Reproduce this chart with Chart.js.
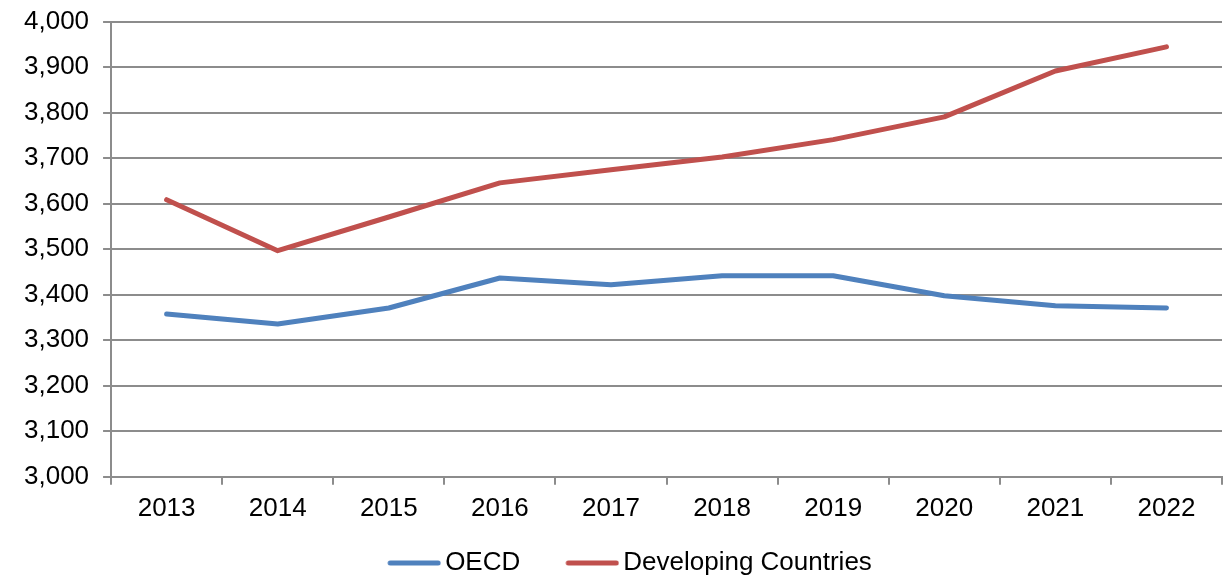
<!DOCTYPE html>
<html>
<head>
<meta charset="utf-8">
<script src="https://cdn.jsdelivr.net/npm/chart.js@4"></script>
<style>
  html, body { margin: 0; padding: 0; background: #fff; }
  #wrap { width: 1230px; height: 584px; }
</style>
</head>
<body>
<div id="wrap"><canvas id="myChart"></canvas></div>
<script>
// data
const years = ['2013', '2014', '2015', '2016', '2017', '2018', '2019', '2020', '2021', '2022'];
const oecd = [3358, 3336, 3371, 3437, 3422, 3442, 3442, 3398, 3376, 3371];
const developing = [3609, 3497, 3571, 3646, 3675, 3703, 3741, 3791, 3892, 3945];
const yMin = 3000, yMax = 4000, yStep = 100;

const gridGrey = '#8c8c8c';
const blue = '#4f81bd';
const red = '#c0504d';
Chart.defaults.font.family = '"Liberation Sans", Arial, sans-serif';
Chart.defaults.font.size = 26;
Chart.defaults.color = '#000';

// legend swatch: a short thick line sitting at the right end of a wider image
function swatch(color) {
    const c = document.createElement('canvas');
    c.width = 90;
    c.height = 8;
    const g = c.getContext('2d');
    g.strokeStyle = color;
    g.lineWidth = 5;
    g.lineCap = 'round';
    g.beginPath();
    g.moveTo(39, 4);
    g.lineTo(87, 4);
    g.stroke();
    return c;
}

const ctx = document.getElementById('myChart');
var myChart = new Chart(ctx, {
    type: 'line',
    data: {
        labels: years,
        datasets: [
            {
                label: 'OECD',
                data: oecd,
                borderColor: blue,
                backgroundColor: blue,
                borderWidth: 5,
                borderCapStyle: 'round',
                borderJoinStyle: 'round',
                pointRadius: 0,
                pointStyle: swatch(blue),
                tension: 0,
                fill: false
            },
            {
                label: 'Developing Countries',
                data: developing,
                borderColor: red,
                backgroundColor: red,
                borderWidth: 5,
                borderCapStyle: 'round',
                borderJoinStyle: 'round',
                pointRadius: 0,
                pointStyle: swatch(red),
                tension: 0,
                fill: false
            }
        ]
    },
    options: {
        responsive: true,
        maintainAspectRatio: false,
        animation: false,
        layout: { padding: { left: 10, right: 8, top: 0, bottom: -2 } },
        plugins: {
            tooltip: { enabled: false },
            legend: {
                position: 'bottom',
                labels: {
                    usePointStyle: true,
                    pointStyleWidth: 72,
                    boxHeight: 8,
                    padding: 18,
                    font: { size: 26 }
                }
            }
        },
        scales: {
            x: {
                offset: true,
                grid: {
                    offset: true,
                    drawOnChartArea: false,
                    drawTicks: true,
                    tickLength: 8,
                    color: gridGrey,
                    lineWidth: 2
                },
                border: { color: gridGrey, width: 2 },
                ticks: { padding: 8 }
            },
            y: {
                min: yMin,
                max: yMax,
                grid: {
                    color: gridGrey,
                    lineWidth: 2,
                    tickLength: 8
                },
                border: { color: gridGrey, width: 2 },
                ticks: {
                    stepSize: yStep,
                    padding: 14,
                    font: { size: 26, lineHeight: 0.6 },
                    callback: function(v) { return v.toLocaleString('en-US'); }
                }
            }
        }
    }
});
</script>
</body>
</html>
